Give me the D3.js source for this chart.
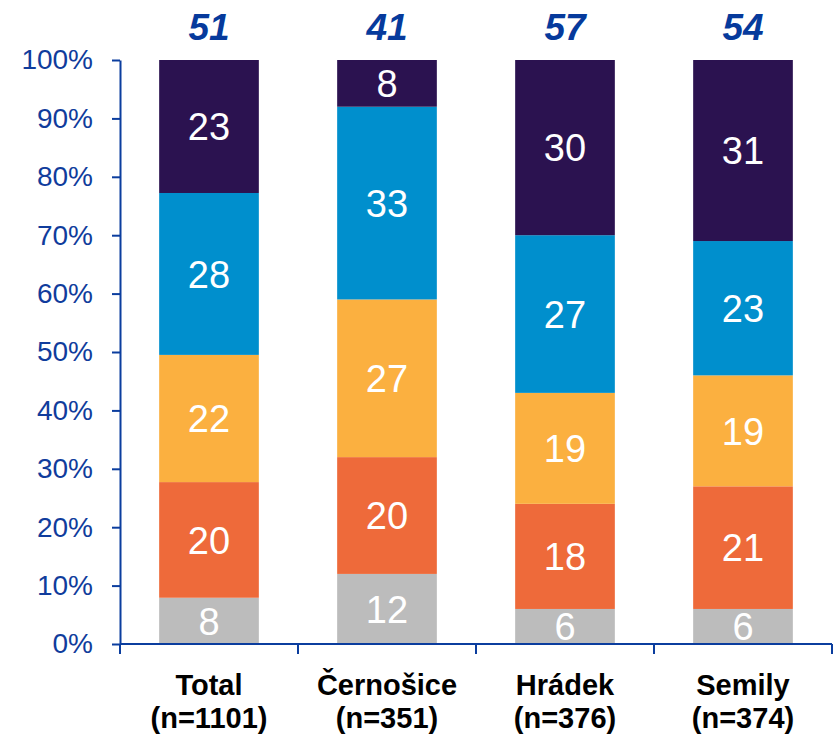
<!DOCTYPE html>
<html>
<head>
<meta charset="utf-8">
<script src="https://cdn.jsdelivr.net/npm/d3@7"></script>
<style>
  body { margin: 0; background: #fff; }
  svg { display: block; font-family: "Liberation Sans", Arial, sans-serif; }
</style>
</head>
<body>
<svg id="chart" width="837" height="737"></svg>
<script>
// data
var categories = ["Total", "Černošice", "Hrádek", "Semily"];
var sample_sizes = ["(n=1101)", "(n=351)", "(n=376)", "(n=374)"];
var top_numbers = [51, 41, 57, 54];

// segments from the bottom up
var segment_keys = ["s1", "s2", "s3", "s4", "s5"];
var s1 = [8, 12, 6, 6];
var s2 = [20, 20, 18, 21];
var s3 = [22, 27, 19, 19];
var s4 = [28, 33, 27, 23];
var s5 = [23, 8, 30, 31];

var y_ticks = [0, 10, 20, 30, 40, 50, 60, 70, 80, 90, 100];

var colors = {
  s1: "#bcbcbc",
  s2: "#ee6a3a",
  s3: "#fbb040",
  s4: "#008fcd",
  s5: "#2b1250"
};

var axis_color = "#0b3d9e";
var label_blue = "#103c9c";

var rows = categories.map(function (cat, idx) {
  return { cat: cat, s1: s1[idx], s2: s2[idx], s3: s3[idx], s4: s4[idx], s5: s5[idx] };
});

var svg = d3.select("#chart");

// plot area edges (note: "top" is taken by window.top)
var plot_left = 120, plot_right = 832, plot_top = 60, plot_bottom = 644;

var x = d3.scaleBand()
  .domain(categories)
  .range([plot_left, plot_right])
  .paddingInner(0.44)
  .paddingOuter(0.22);

var y = d3.scaleLinear().domain([0, 1]).range([plot_bottom, plot_top]);

var stack = d3.stack().keys(segment_keys).offset(d3.stackOffsetExpand);
var series = stack(rows);

// bars
var groups = svg.selectAll("g.series")
  .data(series)
  .enter().append("g")
  .attr("class", "series")
  .attr("fill", function (d) { return colors[d.key]; });

groups.selectAll("rect")
  .data(function (d) { return d; })
  .enter().append("rect")
  .attr("x", function (d) { return x(d.data.cat); })
  .attr("y", function (d) { return y(d[1]); })
  .attr("width", x.bandwidth())
  .attr("height", function (d) { return y(d[0]) - y(d[1]); });

// segment labels
series.forEach(function (s) {
  svg.append("g").selectAll("text")
    .data(s)
    .enter().append("text")
    .attr("x", function (d) { return x(d.data.cat) + x.bandwidth() / 2; })
    .attr("y", function (d) { return (y(d[0]) + y(d[1])) / 2; })
    .attr("dy", "0.36em")
    .attr("text-anchor", "middle")
    .attr("fill", "#fff")
    .style("font-size", "38px")
    .text(function (d) { return d.data[s.key]; });
});

// y axis
var y_axis = d3.axisLeft(y)
  .tickValues(y_ticks.map(function (v) { return v / 100; }))
  .tickFormat(function (v) { return Math.round(v * 100) + "%"; })
  .tickSizeInner(8)
  .tickSizeOuter(0)
  .tickPadding(19);

var gy = svg.append("g")
  .attr("transform", "translate(" + plot_left + ",0)")
  .call(y_axis);

gy.select(".domain").attr("stroke", axis_color).attr("stroke-width", 2);
gy.selectAll(".tick line").attr("stroke", axis_color).attr("stroke-width", 2);
gy.selectAll(".tick text")
  .attr("fill", label_blue)
  .style("font-size", "28px")
  .style("font-family", "Liberation Sans, Arial, sans-serif");

// x axis line with ticks at category boundaries
var boundaries = [plot_left].concat(categories.map(function (c) {
  return x(c) + x.bandwidth() + x.step() * x.paddingInner() / 2;
}));
boundaries[boundaries.length - 1] = plot_right;

svg.append("line")
  .attr("x1", plot_left).attr("x2", plot_right)
  .attr("y1", plot_bottom).attr("y2", plot_bottom)
  .attr("stroke", axis_color).attr("stroke-width", 2);

svg.append("g").selectAll("line")
  .data(boundaries)
  .enter().append("line")
  .attr("x1", function (d) { return d; })
  .attr("x2", function (d) { return d; })
  .attr("y1", plot_bottom)
  .attr("y2", plot_bottom + 10)
  .attr("stroke", axis_color).attr("stroke-width", 2);

// category labels
var cat_labels = svg.append("g").selectAll("text")
  .data(categories)
  .enter().append("text")
  .attr("text-anchor", "middle")
  .attr("fill", "#000")
  .style("font-size", "29px")
  .style("font-weight", "bold");

cat_labels.append("tspan")
  .attr("x", function (d) { return x(d) + x.bandwidth() / 2; })
  .attr("y", 695)
  .text(function (d) { return d; });

cat_labels.append("tspan")
  .attr("x", function (d) { return x(d) + x.bandwidth() / 2; })
  .attr("y", 728)
  .text(function (d, i) { return sample_sizes[i]; });

// numbers above bars
svg.append("g").selectAll("text")
  .data(top_numbers)
  .enter().append("text")
  .attr("x", function (d, i) { return x(categories[i]) + x.bandwidth() / 2; })
  .attr("y", 40)
  .attr("text-anchor", "middle")
  .attr("fill", "#063a9c")
  .style("font-size", "37px")
  .style("font-weight", "bold")
  .style("font-style", "italic")
  .text(function (d) { return d; });
</script>
</body>
</html>
